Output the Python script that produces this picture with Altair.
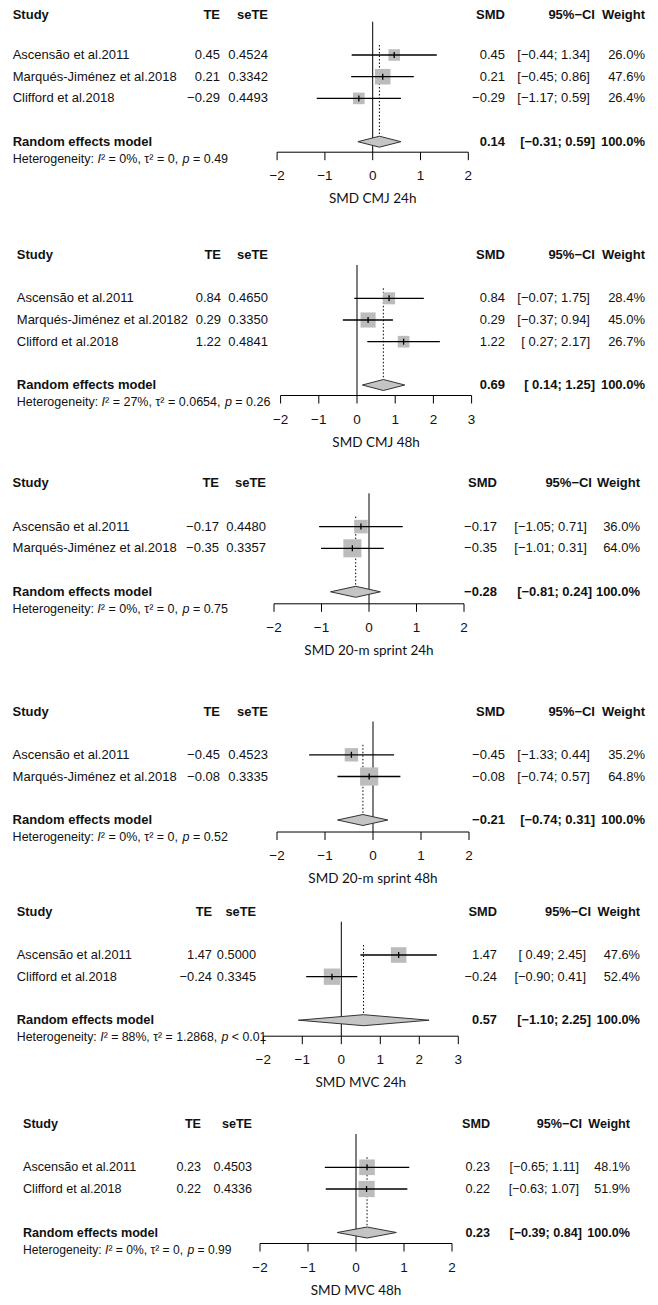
import altair as alt
import pandas as pd

# ---------------- data ----------------
titles = ["SMD CMJ 24h", "SMD CMJ 48h", "SMD 20-m sprint 24h",
          "SMD 20-m sprint 48h", "SMD MVC 24h", "SMD MVC 48h"]

p1_study = ["Ascensão et al.2011", "Marqués-Jiménez et al.2018", "Clifford et al.2018"]
p1_te = [0.45, 0.21, -0.29]
p1_sete = ["0.4524", "0.3342", "0.4493"]
p1_lower = [-0.44, -0.45, -1.17]
p1_upper = [1.34, 0.86, 0.59]
p1_weight = [26.0, 47.6, 26.4]
p1_pooled = [0.14, -0.31, 0.59]
p1_het = ["0%", "0", "= 0.49"]

p2_study = ["Ascensão et al.2011", "Marqués-Jiménez et al.20182", "Clifford et al.2018"]
p2_te = [0.84, 0.29, 1.22]
p2_sete = ["0.4650", "0.3350", "0.4841"]
p2_lower = [-0.07, -0.37, 0.27]
p2_upper = [1.75, 0.94, 2.17]
p2_weight = [28.4, 45.0, 26.7]
p2_pooled = [0.69, 0.14, 1.25]
p2_het = ["27%", "0.0654", "= 0.26"]

p3_study = ["Ascensão et al.2011", "Marqués-Jiménez et al.2018"]
p3_te = [-0.17, -0.35]
p3_sete = ["0.4480", "0.3357"]
p3_lower = [-1.05, -1.01]
p3_upper = [0.71, 0.31]
p3_weight = [36.0, 64.0]
p3_pooled = [-0.28, -0.81, 0.24]
p3_het = ["0%", "0", "= 0.75"]

p4_study = ["Ascensão et al.2011", "Marqués-Jiménez et al.2018"]
p4_te = [-0.45, -0.08]
p4_sete = ["0.4523", "0.3335"]
p4_lower = [-1.33, -0.74]
p4_upper = [0.44, 0.57]
p4_weight = [35.2, 64.8]
p4_pooled = [-0.21, -0.74, 0.31]
p4_het = ["0%", "0", "= 0.52"]

p5_study = ["Ascensão et al.2011", "Clifford et al.2018"]
p5_te = [1.47, -0.24]
p5_sete = ["0.5000", "0.3345"]
p5_lower = [0.49, -0.90]
p5_upper = [2.45, 0.41]
p5_weight = [47.6, 52.4]
p5_pooled = [0.57, -1.10, 2.25]
p5_het = ["88%", "1.2868", "< 0.01"]

p6_study = ["Ascensão et al.2011", "Clifford et al.2018"]
p6_te = [0.23, 0.22]
p6_sete = ["0.4503", "0.4336"]
p6_lower = [-0.65, -0.63]
p6_upper = [1.11, 1.07]
p6_weight = [48.1, 51.9]
p6_pooled = [0.23, -0.39, 0.84]
p6_het = ["0%", "0", "= 0.99"]

ticks_a = [-2, -1, 0, 1, 2]
ticks_b = [-2, -1, 0, 1, 2, 3]

header_labels = ["Study", "TE", "seTE", "SMD", "95%\u2212CI", "Weight"]
re_label = "Random effects model"

panels = [
    dict(study=p1_study, te=p1_te, sete=p1_sete, lower=p1_lower, upper=p1_upper, weight=p1_weight, pooled=p1_pooled, het=p1_het, ticks=ticks_a),
    dict(study=p2_study, te=p2_te, sete=p2_sete, lower=p2_lower, upper=p2_upper, weight=p2_weight, pooled=p2_pooled, het=p2_het, ticks=ticks_b),
    dict(study=p3_study, te=p3_te, sete=p3_sete, lower=p3_lower, upper=p3_upper, weight=p3_weight, pooled=p3_pooled, het=p3_het, ticks=ticks_a),
    dict(study=p4_study, te=p4_te, sete=p4_sete, lower=p4_lower, upper=p4_upper, weight=p4_weight, pooled=p4_pooled, het=p4_het, ticks=ticks_a),
    dict(study=p5_study, te=p5_te, sete=p5_sete, lower=p5_lower, upper=p5_upper, weight=p5_weight, pooled=p5_pooled, het=p5_het, ticks=ticks_b),
    dict(study=p6_study, te=p6_te, sete=p6_sete, lower=p6_lower, upper=p6_upper, weight=p6_weight, pooled=p6_pooled, het=p6_het, ticks=ticks_a),
]

# ---------------- layout (page pixel positions) ----------------
W = 642
PAGE = 8
FONT = "Liberation Sans"
TFONT = "Lato"
MINUS = "\u2212"

layout = [
    dict(top=8,    height=232, header=11.7,  zero=372.7, k=47.8, gap=10.5, name=12.7, te=220, se=268,   smd=505, ci=590, cih=595, w=645, fs=13),
    dict(top=240,  height=230, header=255,   zero=357,   k=38.2, gap=10.5, name=16.8, te=221, se=268,   smd=505, ci=590, cih=595, w=645, fs=13),
    dict(top=470,  height=228, header=483.3, zero=369,   k=47.5, gap=12,   name=12.6, te=219, se=266,   smd=497, ci=587, cih=592, w=640, fs=13),
    dict(top=698,  height=198, header=711.5, zero=373,   k=48,   gap=12,   name=12.6, te=220, se=268,   smd=505, ci=590, cih=595, w=645, fs=13),
    dict(top=896,  height=214, header=911.7, zero=341.3, k=39,   gap=16,   name=16.8, te=212, se=256,   smd=497, ci=586, cih=591, w=640, fs=12.8),
    dict(top=1110, height=187, header=1124,  zero=356,   k=48,   gap=11,   name=23,   te=201, se=252,   smd=490, ci=579, cih=582, w=630, fs=12.6),
]

# Arial / Liberation Sans advance widths (per 1000 em) for the heterogeneity line
ADV = {"H": 722, "e": 556, "t": 278, "r": 333, "o": 556, "g": 556, "n": 556, "i": 222,
       "y": 500, ":": 278, " ": 278, "\u00b2": 333, "=": 584, "<": 584, "%": 889,
       ",": 278, ".": 278, "I": 278, "p": 556, "\u03c4": 470}


def adv(s, size):
    return sum(ADV.get(ch, 556) for ch in s) * size / 1000.0


def num(v):
    return (MINUS if v < 0 else "") + f"{abs(v):.2f}"


def ci_txt(lo, hi):
    return "[" + (num(lo) if lo < 0 else " " + num(lo)) + "; " + num(hi) + "]"


def tick_txt(t):
    return (MINUS + str(abs(t))) if t < 0 else str(t)


def panel(i):
    L = layout[i]
    d = panels[i]
    top, H = L["top"], L["height"]
    n = len(d["study"])
    fs = L["fs"]

    def loc(y):
        return y - top

    hdr = L["header"]
    rows = [hdr + 43.3 + 21.7 * j for j in range(n)]
    re_y = hdr + (130 if n == 3 else 108.5)
    het_y = re_y + 17
    axis_y = re_y + L["gap"]
    lab_y = axis_y + 24
    tit_y = axis_y + 47
    hdr_y = max(hdr, top + fs / 2 + 0.2)

    Z = L["zero"] - PAGE
    k = L["k"]
    xs = alt.Scale(domain=[-Z / k, (W - Z) / k], nice=False, zero=False)
    ys = alt.Scale(domain=[0, H], reverse=True, nice=False, zero=False)

    def X(f):
        return alt.X(f, type="quantitative", scale=xs, axis=None)

    def Y(f):
        return alt.Y(f, type="quantitative", scale=ys, axis=None)

    est, plo, phi = d["pooled"]

    sdf = pd.DataFrame({
        "study": d["study"],
        "te": d["te"],
        "lo": d["lower"],
        "hi": d["upper"],
        "w": d["weight"],
        "te_txt": [num(v) for v in d["te"]],
        "se_txt": d["sete"],
        "ci_txt": [ci_txt(a, b) for a, b in zip(d["lower"], d["upper"])],
        "w_txt": [f"{v:.1f}%" for v in d["weight"]],
        "y": [loc(r) for r in rows],
    })
    sdf["y_lo"] = sdf["y"] - 3
    sdf["y_hi"] = sdf["y"] + 3

    layers = []

    # zero reference line
    layers.append(alt.Chart(pd.DataFrame({"x": [0], "y": [loc(hdr + 10)], "y2": [loc(axis_y)]}))
                  .mark_rule(color="black", strokeWidth=1)
                  .encode(x=X("x"), y=Y("y"), y2="y2"))
    # pooled estimate dotted line
    layers.append(alt.Chart(pd.DataFrame({"x": [est], "y": [loc(rows[0] - 10)], "y2": [loc(re_y - 5.5)]}))
                  .mark_rule(color="black", strokeWidth=1, strokeDash=[1.5, 2])
                  .encode(x=X("x"), y=Y("y"), y2="y2"))
    # weight squares
    layers.append(alt.Chart(sdf).mark_square(color="#bcbcbc", opacity=1)
                  .encode(x=X("te"), y=Y("y"),
                          size=alt.Size("w:Q", scale=alt.Scale(domain=[0, max(d["weight"])], range=[0, 330]), legend=None)))
    # confidence intervals
    layers.append(alt.Chart(sdf).mark_rule(color="black", strokeWidth=1.3)
                  .encode(x=X("lo"), x2="hi", y=Y("y")))
    # point estimate marks
    layers.append(alt.Chart(sdf).mark_rule(color="black", strokeWidth=1.3)
                  .encode(x=X("te"), y=Y("y_lo"), y2="y_hi"))
    # diamond
    ddf = pd.DataFrame({"x": [plo, est, phi],
                        "y": [loc(re_y), loc(re_y) - 5.5, loc(re_y)],
                        "y2": [loc(re_y), loc(re_y) + 5.5, loc(re_y)]})
    layers.append(alt.Chart(ddf).mark_area(fill="#c4c4c4", stroke="#333333", strokeWidth=1, orient="vertical")
                  .encode(x=X("x"), y=Y("y"), y2="y2"))
    # axis line + ticks + labels
    t = d["ticks"]
    layers.append(alt.Chart(pd.DataFrame({"x": [min(t)], "x2": [max(t)], "y": [loc(axis_y)]}))
                  .mark_rule(color="black", strokeWidth=1)
                  .encode(x=X("x"), x2="x2", y=Y("y")))
    tdf = pd.DataFrame({"t": t, "lab": [tick_txt(v) for v in t],
                        "y": [loc(axis_y)] * len(t), "y2": [loc(axis_y) + 8] * len(t),
                        "ly": [loc(lab_y)] * len(t)})
    layers.append(alt.Chart(tdf).mark_rule(color="black", strokeWidth=1)
                  .encode(x=X("t"), y=Y("y"), y2="y2"))
    layers.append(alt.Chart(tdf).mark_text(font=FONT, fontSize=13.5, color="#111", baseline="middle", align="center")
                  .encode(x=X("t"), y=Y("ly"), text="lab:N"))
    # x title
    layers.append(alt.Chart(pd.DataFrame({"x": [(min(t) + max(t)) / 2], "y": [loc(tit_y)], "lab": [titles[i]]}))
                  .mark_text(font=TFONT, fontSize=13.5, color="#111", baseline="middle", align="center")
                  .encode(x=X("x"), y=Y("y"), text="lab:N"))

    def txt(df, field, xpx, align, bold=False, size=None, yfield="y", italic=False):
        return (alt.Chart(df)
                .mark_text(font=FONT, fontSize=size or fs, fontWeight="bold" if bold else "normal",
                           fontStyle="italic" if italic else "normal",
                           color="#111", baseline="middle", align=align)
                .encode(x=alt.value(xpx - PAGE), y=Y(yfield), text=f"{field}:N"))

    # header row
    hdf = pd.DataFrame({"y": [loc(hdr_y)], "a": [header_labels[0]], "b": [header_labels[1]],
                        "c": [header_labels[2]], "d": [header_labels[3]], "e": [header_labels[4]],
                        "f": [header_labels[5]]})
    layers += [txt(hdf, "a", L["name"], "left", True), txt(hdf, "b", L["te"], "right", True),
               txt(hdf, "c", L["se"], "right", True), txt(hdf, "d", L["smd"], "right", True),
               txt(hdf, "e", L["cih"], "right", True), txt(hdf, "f", L["w"], "right", True)]
    # study rows
    layers += [txt(sdf, "study", L["name"], "left"), txt(sdf, "te_txt", L["te"], "right"),
               txt(sdf, "se_txt", L["se"], "right"), txt(sdf, "te_txt", L["smd"], "right"),
               txt(sdf, "ci_txt", L["ci"], "right"), txt(sdf, "w_txt", L["w"], "right")]
    # random effects row
    rdf = pd.DataFrame({"y": [loc(re_y)], "lab": [re_label], "smd": [num(est)],
                        "ci": [ci_txt(plo, phi)], "w": ["100.0%"]})
    layers += [txt(rdf, "lab", L["name"], "left", True), txt(rdf, "smd", L["smd"], "right", True),
               txt(rdf, "ci", L["cih"], "right", True), txt(rdf, "w", L["w"], "right", True)]
    # heterogeneity (I and p in italics, as in the reference)
    i2, tau2, pv = d["het"]
    hs = fs - 0.5
    segs = [("Heterogeneity: ", False), ("I", True),
            (f"\u00b2 = {i2}, \u03c4\u00b2 = {tau2}, ", False), ("p", True), (f" {pv}", False)]
    xcur = L["name"]
    for s, it in segs:
        body = s.lstrip(" ")
        lead = len(s) - len(body)
        x0 = xcur + adv(" " * lead, hs)
        sd = pd.DataFrame({"y": [loc(het_y)], "lab": [body.rstrip(" ")]})
        layers.append(txt(sd, "lab", x0, "left", size=hs, italic=it))
        xcur += adv(s, hs)

    return alt.layer(*layers).properties(width=W, height=H)


chart = (alt.vconcat(*[panel(i) for i in range(6)], spacing=0)
         .properties(padding=0, background="white")
         .configure_view(stroke=None))

chart.save("out.html", embed_options={"renderer": "svg", "actions": False})
